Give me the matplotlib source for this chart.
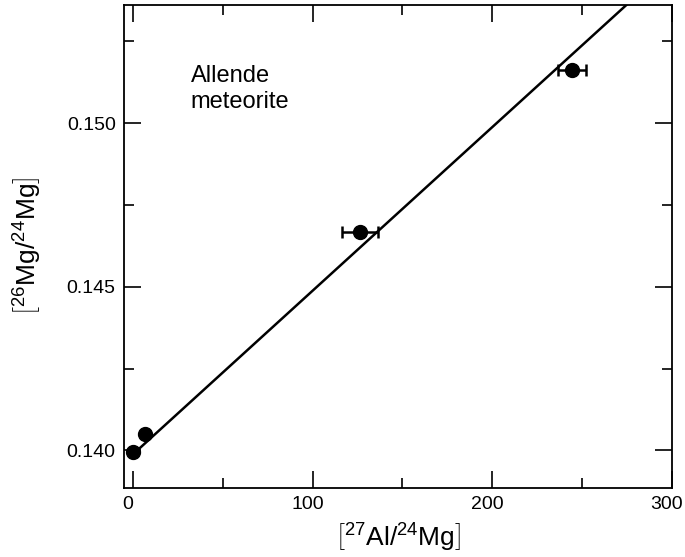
import matplotlib
matplotlib.use("Agg")
import matplotlib.pyplot as plt
import matplotlib.transforms as mtransforms
import numpy as np
from matplotlib.ticker import MultipleLocator

plt.rcParams['font.family'] = ['Liberation Sans', 'DejaVu Sans']
plt.rcParams['mathtext.fontset'] = 'custom'
plt.rcParams['mathtext.rm'] = 'Liberation Sans'
plt.rcParams['mathtext.it'] = 'Liberation Sans:italic'
plt.rcParams['mathtext.bf'] = 'Liberation Sans:bold'

# data
al_mg = [0.0, 6.5, 126.5, 244.5]
al_err = [0.0, 0.0, 10.0, 7.8]
mg_ratio = [0.13995, 0.14049, 0.14666, 0.15163]
fit_intercept = 0.13988
fit_slope = 5.0e-5
fit_x = [0.0, 300.0]

fig = plt.figure(figsize=(6.85, 5.57), dpi=100)
ax = fig.add_axes([124/685, 1-488/557, (672-124)/685, (488-5)/557])

fx = np.array(fit_x)
ax.plot(fx, fit_intercept + fit_slope*fx, color='black', lw=1.8, zorder=2)
ax.errorbar(al_mg, mg_ratio, xerr=al_err, fmt='o', color='black', ms=10,
            elinewidth=1.8, capsize=4, capthick=1.8, zorder=3)

ax.set_xlim(-5, 300)
ax.set_ylim(0.13885, 0.15361)
ax.xaxis.set_major_locator(MultipleLocator(100))
ax.xaxis.set_minor_locator(MultipleLocator(50))
ax.yaxis.set_major_locator(MultipleLocator(0.005))
ax.yaxis.set_minor_locator(MultipleLocator(0.0025))
ax.yaxis.set_major_formatter(matplotlib.ticker.FormatStrFormatter('%.3f'))
ax.tick_params(which='both', direction='in', top=True, right=True, labelsize=14, width=1.2)
ax.tick_params(which='major', length=12, pad=6)
ax.tick_params(which='minor', length=7)
for s in ax.spines.values():
    s.set_linewidth(1.3)

# shift x tick labels slightly left, as in the reference
offset = mtransforms.ScaledTranslation(-5/100, 0, fig.dpi_scale_trans)
for lbl in ax.get_xticklabels():
    lbl.set_transform(lbl.get_transform() + offset)

ax.set_xlabel(r'$\left[{}^{27}\mathrm{Al}/{}^{24}\mathrm{Mg}\right]$', fontsize=19, labelpad=6)
ax.set_ylabel(r'$\left[{}^{26}\mathrm{Mg}/{}^{24}\mathrm{Mg}\right]$', fontsize=19, labelpad=16)

ax.text(0.122, 0.875, 'Allende\nmeteorite', transform=ax.transAxes, fontsize=17,
        va='top', ha='left', linespacing=1.2)

fig.savefig('out.png', dpi=100)
